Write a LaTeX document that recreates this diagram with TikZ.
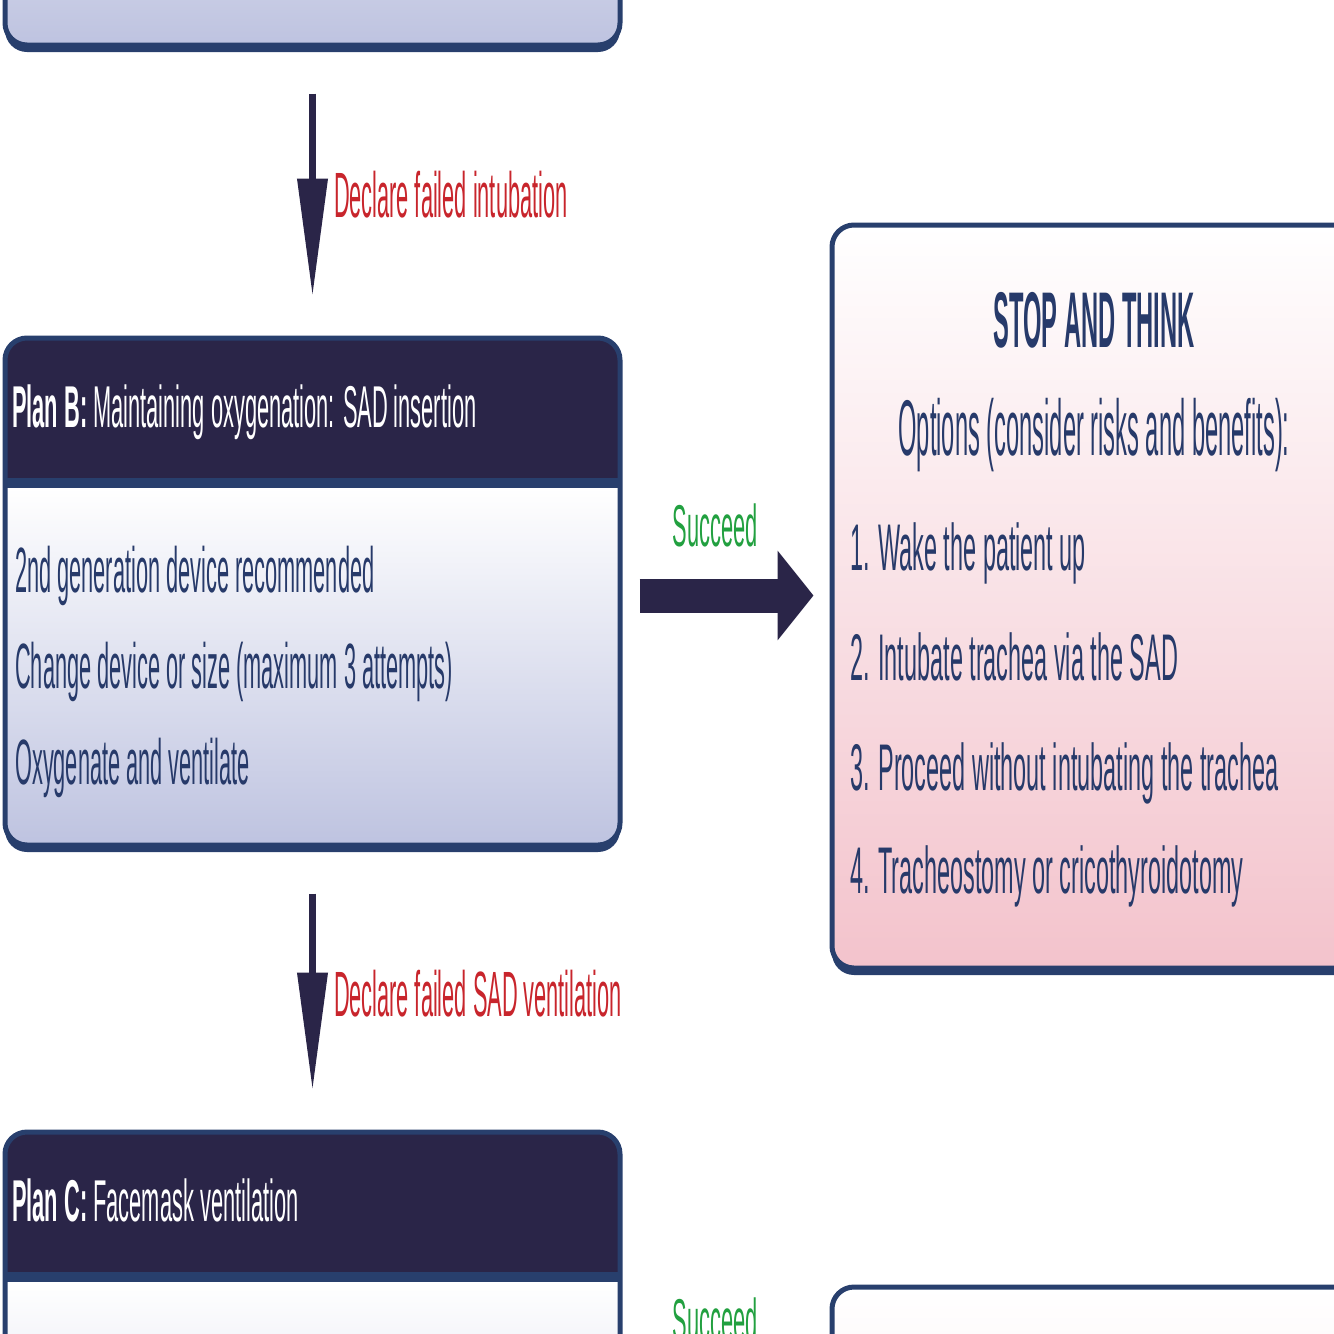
\documentclass[tikz,border=0pt]{standalone}
\usepackage{fontspec}
\setmainfont{Liberation Sans}
\newfontfamily\fHead{Liberation Sans}[FakeStretch=0.37]
\newfontfamily\fBody{Liberation Sans}[FakeStretch=0.34]
\newfontfamily\fItem{Liberation Sans}[FakeStretch=0.355]
\newfontfamily\fTitle{Liberation Sans}[FakeStretch=0.30]
\usetikzlibrary{arrows.meta, shadows}

\definecolor{navyhead}{HTML}{2A2548}
\definecolor{navyline}{HTML}{283F6D}
\definecolor{lavender}{HTML}{BEC3E0}
\definecolor{rosebot}{HTML}{F3C3CC}
\definecolor{textnavy}{HTML}{273A6A}
\definecolor{failred}{HTML}{C8252C}
\definecolor{okgreen}{HTML}{22A040}

\begin{document}
\begin{tikzpicture}[x=1pt, y=-1pt,
  planbox/.style={draw=navyline, line width=5pt, rounded corners=22pt,
    minimum width=615pt, minimum height=507pt, inner sep=0pt,
    drop shadow={shadow xshift=0pt, shadow yshift=-7pt, opacity=1, fill=navyline},
    path picture={
      \fill[navyhead, sharp corners] (path picture bounding box.north west) rectangle ([yshift=-140pt]path picture bounding box.north east);
      \fill[navyline, sharp corners] ([yshift=-140pt]path picture bounding box.north west) rectangle ([yshift=-150pt]path picture bounding box.north east);
      \shade[top color=white, bottom color=lavender, sharp corners] ([yshift=-150pt]path picture bounding box.north west) rectangle (path picture bounding box.south east);
    }},
  stopbox/.style={draw=navyline, line width=5pt, rounded corners=22pt,
    minimum width=524pt, minimum height=743pt, inner sep=0pt,
    top color=white, bottom color=rosebot,
    drop shadow={shadow xshift=0pt, shadow yshift=-7pt, opacity=1, fill=navyline}},
  headtxt/.style={font=\fHead\fontsize{59}{64}\selectfont, text=white, inner sep=0pt, anchor=base west},
  bodytxt/.style={font=\fBody\fontsize{64}{70}\selectfont, text=textnavy, inner sep=0pt, anchor=base west},
  itemtxt/.style={font=\fItem\fontsize{66}{72}\selectfont, text=textnavy, inner sep=0pt, anchor=base west},
  stoptxt/.style={font=\fTitle\fontsize{79}{86}\selectfont, text=textnavy, inner sep=0pt, anchor=base},
  faillbl/.style={font=\fBody\fontsize{64}{70}\selectfont, text=failred, inner sep=0pt, anchor=base west},
  oklbl/.style={font=\fHead\fontsize{59}{64}\selectfont, text=okgreen, inner sep=0pt, anchor=base},
  downarrow/.style={draw=navyhead, line width=7pt, -{Triangle[width=29pt,length=118pt]}, shorten <=46pt, shorten >=39pt},
  rightarrow/.style={draw=navyhead, line width=34pt, -{Triangle[width=88pt,length=36pt]}, shorten <=17pt, shorten >=16pt}]

\useasboundingbox (0,0) rectangle (1334,1334);
\clip (0,0) rectangle (1334,1334);

% plan boxes on the left
\node[planbox] (planA) at (312.5,-208.5) {};
\node[planbox] (planB) at (312.5,591.5) {};
\node[planbox] (planC) at (312.5,1385.5) {};

% stop-and-think boxes on the right
\node[stopbox] (stop) at (1094,596.5) {};
\node[stopbox] (next) at (1094,1658.5) {};

\node[headtxt] (planBhead) at (12,427) {\textbf{Plan B:} Maintaining oxygenation: SAD insertion};
\node[bodytxt] (planB1) at (15,592) {2nd generation device recommended};
\node[bodytxt] (planB2) at (15,688) {Change device or size (maximum 3 attempts)};
\node[bodytxt] (planB3) at (15,784) {Oxygenate and ventilate};

\node[headtxt] (planChead) at (12,1221) {\textbf{Plan C:} Facemask ventilation};

\node[stoptxt] (stoptitle) at (1094,347) {\textbf{STOP AND THINK}};
\node[stoptxt] (stopopts) at (1094,455) {Options (consider risks and benefits):};
\node[itemtxt] (stop1) at (850,570) {1. Wake the patient up};
\node[itemtxt] (stop2) at (850,680) {2. Intubate trachea via the SAD};
\node[itemtxt] (stop3) at (850,790) {3. Proceed without intubating the trachea};
\node[itemtxt] (stop4) at (850,893) {4. Tracheostomy or cricothyroidotomy};

\draw[downarrow] (planA.south) -- node[faillbl, pos=0.59, xshift=18pt] {Declare failed intubation} (planB.north);
\draw[downarrow] (planB.south) -- node[faillbl, pos=0.6, xshift=18pt] {Declare failed SAD ventilation} (planC.north);
\draw[rightarrow] ([yshift=-4pt]planB.east) -- node[oklbl, midway, xshift=-11pt, yshift=49pt] {Succeed} ([yshift=-4pt]planB.east -| stop.west);
\draw[rightarrow] ([yshift=-4pt]planC.east) -- node[oklbl, midway, xshift=-11pt, yshift=49pt] {Succeed} ([yshift=-4pt]planC.east -| next.west);
\end{tikzpicture}
\end{document}
